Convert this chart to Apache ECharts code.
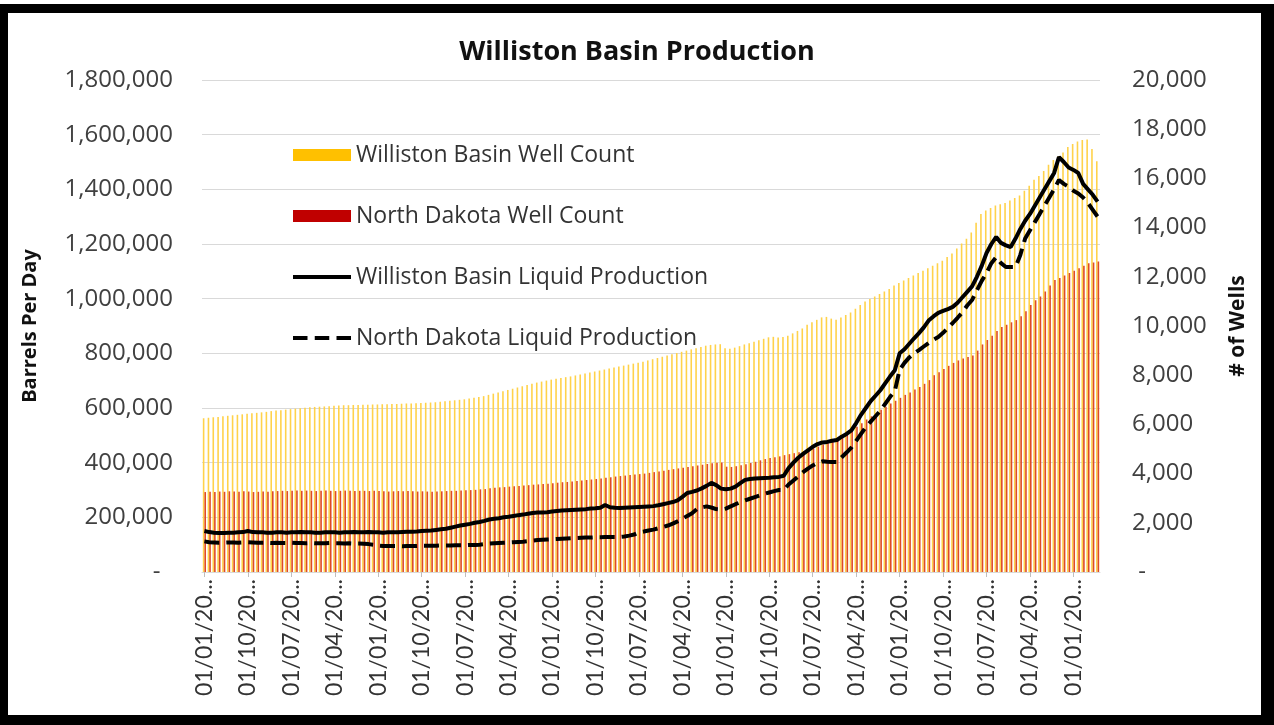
<!DOCTYPE html>
<html>
<head>
<meta charset="utf-8">
<title>Williston Basin Production</title>
<script src="https://cdn.jsdelivr.net/npm/echarts@6/dist/echarts.min.js"></script>
<style>
  html, body { margin: 0; padding: 0; background: #fff; }
  #chart { position: absolute; left: 0; top: 0; width: 1274px; height: 725px; }
  /* black picture frame round the chart */
  #frame { position: absolute; left: 0; top: 4px; width: 1274px; height: 721px; box-sizing: border-box;
    border-style: solid; border-color: #000; border-width: 9px 13px 10px 8px; pointer-events: none; }
</style>
</head>
<body>
<div id="chart"></div>
<div id="frame"></div>
<script>
// monthly categories, Jan 2000 .. Jun 2015
const startYear = 2000;
const monthCount = 186;
const months = [];
for (let i = 0; i < monthCount; i++) {
  const y = startYear + Math.floor(i / 12);
  const m = String(i % 12 + 1).padStart(2, '0');
  months.push('01/' + m + '/' + y);
}

// Williston Basin well count (right axis)
const wbWells = [
  6250, 6270, 6290, 6300, 6330, 6350, 6370, 6390, 6410, 6430, 6450, 6470,
  6490, 6510, 6540, 6560, 6580, 6600, 6620, 6640, 6660, 6680, 6700, 6710,
  6720, 6730, 6740, 6760, 6770, 6780, 6780, 6790, 6790, 6800, 6800, 6810,
  6810, 6820, 6820, 6830, 6830, 6840, 6850, 6850, 6860, 6870, 6880, 6890,
  6900, 6920, 6940, 6960, 6980, 7000, 7020, 7050, 7080, 7110, 7150, 7200,
  7250, 7300, 7350, 7400, 7450, 7500, 7550, 7600, 7650, 7700, 7740, 7780,
  7820, 7860, 7890, 7920, 7950, 7990, 8030, 8070, 8110, 8150, 8190, 8230,
  8270, 8310, 8350, 8390, 8430, 8470, 8510, 8550, 8600, 8650, 8700, 8750,
  8800, 8850, 8900, 8950, 9000, 9050, 9100, 9150, 9200, 9230, 9250, 9260,
  9100, 9080, 9120, 9180, 9250, 9300, 9360, 9420, 9480, 9540, 9560, 9530,
  9550, 9600, 9700, 9800, 9900, 10050, 10150, 10250, 10350, 10370, 10300, 10250,
  10350, 10450, 10550, 10700, 10850, 11000, 11100, 11200, 11300, 11400, 11500, 11650,
  11750, 11850, 11950, 12050, 12150, 12250, 12350, 12450, 12550, 12650, 12800, 12950,
  13150, 13350, 13550, 13800, 14200, 14550, 14700, 14800, 14900, 14950, 15000, 15100,
  15200, 15300, 15500, 15700, 15950, 16100, 16300, 16550, 16750, 16900, 17050, 17280,
  17400, 17500, 17560, 17580, 17200, 16700
];

// North Dakota well count (right axis)
const ndWells = [
  3250, 3260, 3250, 3270, 3260, 3280, 3270, 3260, 3280, 3270, 3250, 3260,
  3270, 3260, 3280, 3290, 3300, 3290, 3300, 3310, 3300, 3310, 3300, 3290,
  3300, 3310, 3300, 3290, 3300, 3310, 3300, 3290, 3300, 3300, 3290, 3300,
  3290, 3280, 3270, 3280, 3290, 3280, 3290, 3280, 3270, 3280, 3270, 3260,
  3270, 3280, 3290, 3300, 3300, 3310, 3320, 3330, 3340, 3360, 3370, 3400,
  3420, 3440, 3450, 3470, 3490, 3500, 3520, 3530, 3550, 3560, 3580, 3590,
  3610, 3630, 3650, 3660, 3680, 3700, 3720, 3740, 3760, 3780, 3800, 3830,
  3850, 3880, 3900, 3920, 3940, 3960, 3980, 4000, 4030, 4060, 4090, 4120,
  4150, 4180, 4210, 4240, 4270, 4300, 4330, 4360, 4390, 4420, 4440, 4450,
  4280, 4270, 4300, 4340, 4380, 4430, 4480, 4540, 4590, 4630, 4660, 4700,
  4750, 4790, 4830, 4870, 4910, 4950, 5020, 5100, 5180, 5240, 5280, 5330,
  5450, 5600, 5750, 5900, 6050, 6200, 6330, 6450, 6600, 6720, 6850, 6960,
  7080, 7200, 7300, 7420, 7520, 7650, 7800, 8000, 8120, 8250, 8380, 8500,
  8600, 8680, 8740, 8800, 9000, 9250, 9430, 9600, 9800, 9960, 10050, 10150,
  10240, 10400, 10600, 10850, 11050, 11200, 11400, 11650, 11870, 11950, 12050, 12150,
  12250, 12350, 12450, 12550, 12580, 12620
];

// Williston Basin liquid production, barrels per day (left axis)
const wbProd = [
  150000, 146000, 144000, 143000, 143000, 144000, 144000, 145000, 146000, 150000, 146000, 145000,
  145000, 144000, 144000, 145000, 145000, 144000, 145000, 145000, 146000, 145000, 145000, 144000,
  144000, 145000, 145000, 145000, 144000, 145000, 145000, 146000, 145000, 145000, 146000, 145000,
  145000, 144000, 145000, 145000, 145000, 146000, 147000, 147000, 148000, 150000, 151000, 152000,
  154000, 156000, 158000, 162000, 166000, 170000, 173000, 176000, 180000, 183000, 187000, 192000,
  195000, 197000, 200000, 202000, 205000, 208000, 210000, 213000, 216000, 218000, 218000, 219000,
  221000, 223000, 225000, 226000, 227000, 228000, 229000, 230000, 232000, 233000, 235000, 245000,
  237000, 235000, 234000, 235000, 236000, 237000, 238000, 239000, 240000, 241000, 244000, 248000,
  252000, 256000, 262000, 275000, 289000, 293000, 298000, 306000, 315000, 326000, 318000, 305000,
  303000, 305000, 312000, 325000, 337000, 340000, 342000, 343000, 344000, 345000, 347000, 348000,
  352000, 380000, 400000, 418000, 432000, 445000, 458000, 468000, 474000, 476000, 480000, 483000,
  495000, 505000, 518000, 545000, 575000, 600000, 625000, 645000, 665000, 690000, 715000, 738000,
  800000, 815000, 835000, 855000, 874000, 895000, 920000, 935000, 948000, 955000, 962000, 970000,
  985000, 1005000, 1025000, 1045000, 1080000, 1120000, 1167000, 1200000, 1226000, 1204000, 1195000, 1189000,
  1220000, 1255000, 1285000, 1310000, 1340000, 1370000, 1400000, 1430000, 1460000, 1518000, 1500000, 1480000,
  1471000, 1460000, 1420000, 1400000, 1380000, 1355000
];

// North Dakota liquid production, barrels per day (left axis)
const ndProd = [
  112000, 109000, 108000, 107000, 107000, 108000, 108000, 107000, 108000, 109000, 108000, 107000,
  107000, 107000, 106000, 107000, 106000, 106000, 107000, 106000, 106000, 105000, 106000, 105000,
  105000, 105000, 106000, 105000, 105000, 104000, 105000, 104000, 104000, 103000, 102000, 100000,
  96000, 95000, 95000, 95000, 95000, 94000, 95000, 95000, 95000, 96000, 96000, 96000,
  96000, 97000, 97000, 97000, 98000, 98000, 98000, 99000, 99000, 100000, 102000, 104000,
  105000, 106000, 107000, 108000, 109000, 110000, 111000, 113000, 115000, 117000, 118000, 119000,
  120000, 121000, 122000, 123000, 124000, 124000, 125000, 126000, 126000, 127000, 127000, 128000,
  128000, 128000, 128000, 130000, 133000, 137000, 145000, 148000, 152000, 155000, 160000, 165000,
  170000, 177000, 185000, 195000, 205000, 215000, 230000, 236000, 240000, 236000, 230000, 228000,
  232000, 240000, 248000, 255000, 262000, 268000, 274000, 280000, 286000, 291000, 296000, 300000,
  300000, 320000, 335000, 350000, 365000, 378000, 390000, 400000, 405000, 403000, 402000, 402000,
  420000, 437000, 455000, 480000, 505000, 530000, 550000, 570000, 590000, 615000, 640000, 662000,
  740000, 765000, 785000, 800000, 812000, 825000, 838000, 850000, 860000, 875000, 893000, 911000,
  930000, 950000, 975000, 995000, 1030000, 1065000, 1094000, 1130000, 1152000, 1130000, 1116000, 1116000,
  1116000, 1160000, 1220000, 1250000, 1280000, 1310000, 1340000, 1370000, 1400000, 1434000, 1420000, 1410000,
  1395000, 1385000, 1370000, 1350000, 1325000, 1300000
];

const leftTicks = { min: 0, max: 1800000, step: 200000 };
const rightTicks = { min: 0, max: 20000, step: 2000 };

const chart = echarts.init(document.getElementById('chart'), null, { renderer: 'canvas' });

const fmt = v => v === 0 ? '-' : v.toLocaleString('en-US');

const option = {
  animation: false,
  backgroundColor: '#fff',
  title: {
    text: 'Williston Basin Production',
    left: 'center',
    top: 34,
    textStyle: { fontFamily: 'Open Sans', fontWeight: 'bold', fontSize: 27, color: '#111' }
  },
  grid: { left: 202, right: 174, top: 80, bottom: 153, containLabel: false },
  legend: {
    orient: 'vertical',
    left: 288,
    top: 135,
    itemWidth: 58,
    itemHeight: 12,
    itemGap: 31,
    selectedMode: false,
    textStyle: { fontFamily: 'Open Sans', fontSize: 23, color: '#333', lineHeight: 30 },
    data: [
      { name: 'Williston Basin Well Count', icon: 'rect', itemStyle: { color: '#FFC000' } },
      { name: 'North Dakota Well Count', icon: 'rect', itemStyle: { color: '#C00000' } },
      // plain line swatches, no marker dot
      { name: 'Williston Basin Liquid Production', icon: 'path://M0,0H58V4H0Z' },
      { name: 'North Dakota Liquid Production', icon: 'path://M0,0H14V4H0ZM21,0H35V4H21ZM42,0H56V4H42Z' }
    ]
  },
  xAxis: {
    type: 'category',
    data: months,
    boundaryGap: true,
    axisLine: { show: true, lineStyle: { color: '#d9d9d9' } },
    axisTick: { show: true, interval: 8, alignWithLabel: true, length: 5, lineStyle: { color: '#bfbfbf' } },
    axisLabel: {
      interval: 8,
      rotate: 90,
      margin: 7,
      fontFamily: 'Lato',
      fontSize: 23,
      color: '#333',
      formatter: v => v.slice(0, 8) + '...'
    },
    splitLine: { show: false }
  },
  yAxis: [
    {
      type: 'value',
      min: leftTicks.min,
      max: leftTicks.max,
      interval: leftTicks.step,
      name: 'Barrels Per Day',
      nameLocation: 'middle',
      nameRotate: 90,
      nameGap: 162,
      nameTextStyle: { fontFamily: 'Open Sans', fontWeight: 'bold', fontSize: 20, color: '#111' },
      axisLine: { show: false },
      axisTick: { show: false },
      axisLabel: {
        margin: 29,
        fontFamily: 'Open Sans',
        fontSize: 24,
        color: '#404040',
        formatter: v => v === 0 ? '-  ' : fmt(v)
      },
      splitLine: { show: true, lineStyle: { color: '#d9d9d9', width: 1 } }
    },
    {
      type: 'value',
      min: rightTicks.min,
      max: rightTicks.max,
      interval: rightTicks.step,
      position: 'right',
      name: '# of Wells',
      nameLocation: 'middle',
      nameRotate: 90,
      nameGap: 128,
      nameTextStyle: { fontFamily: 'Open Sans', fontWeight: 'bold', fontSize: 21, color: '#111' },
      axisLine: { show: false },
      axisTick: { show: false },
      axisLabel: {
        margin: 32,
        fontFamily: 'Open Sans',
        fontSize: 24,
        color: '#404040',
        formatter: v => v === 0 ? ' -' : fmt(v)
      },
      splitLine: { show: false }
    }
  ],
  series: [
    {
      name: 'Williston Basin Well Count',
      type: 'bar',
      yAxisIndex: 1,
      data: wbWells,
      barGap: '0%',
      barCategoryGap: '34%',
      // thin stripes read lighter in the reference than the legend swatch
      itemStyle: { color: '#FFD24A' }
    },
    {
      name: 'North Dakota Well Count',
      type: 'bar',
      yAxisIndex: 1,
      data: ndWells,
      barGap: '0%',
      barCategoryGap: '34%',
      itemStyle: { color: '#DE4A26' }
    },
    {
      name: 'Williston Basin Liquid Production',
      type: 'line',
      yAxisIndex: 0,
      data: wbProd,
      symbol: 'none',
      lineStyle: { color: '#000', width: 4 },
      itemStyle: { color: '#000' }
    },
    {
      name: 'North Dakota Liquid Production',
      type: 'line',
      yAxisIndex: 0,
      data: ndProd,
      symbol: 'none',
      lineStyle: { color: '#000', width: 4, type: [15, 7] },
      itemStyle: { color: '#000' }
    }
  ]
};

chart.setOption(option);
</script>
</body>
</html>
